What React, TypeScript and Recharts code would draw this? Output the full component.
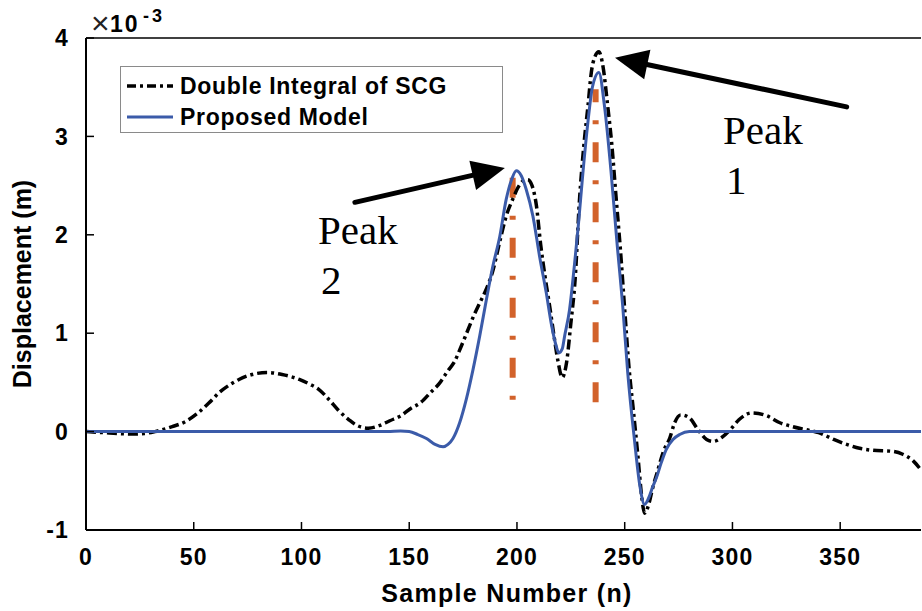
import { LineChart, Line, XAxis, YAxis, ReferenceLine, ReferenceDot, Legend, Label } from "recharts";

// Double integral of SCG (black dash-dot)
const SCG_N = [
  0, 8, 15, 22, 27, 32, 40, 46, 52, 57, 62, 67, 71, 77, 84, 91, 99, 104, 108, 113, 117, 122, 126, 131,
  136, 141, 146, 151, 155, 160, 164, 168, 171, 174, 177, 180, 183, 186, 189, 192, 195, 198, 201, 203,
  205, 207, 209, 211, 213, 215, 217, 219, 221, 223, 225, 227, 229, 231, 233, 234.5, 236, 238, 240, 242,
  244, 246, 248, 250, 252, 254, 256, 258, 259.2, 261, 263, 265, 268, 271, 273, 276, 280, 284, 288, 291,
  295, 299, 303, 309, 316, 322, 328, 334, 340, 347, 353, 359, 365, 374, 379, 384, 387.5,
];
const SCG_V = [
  0, -0.01, -0.02, -0.025, -0.02, 0, 0.05, 0.1, 0.19, 0.29, 0.4, 0.48, 0.53, 0.58, 0.6, 0.58, 0.53, 0.48,
  0.43, 0.32, 0.22, 0.12, 0.06, 0.035, 0.06, 0.11, 0.16, 0.24, 0.29, 0.4, 0.49, 0.62, 0.71, 0.86, 1.02,
  1.18, 1.32, 1.46, 1.65, 1.93, 2.19, 2.36, 2.5, 2.55, 2.56, 2.5, 2.3, 1.9, 1.58, 1.3, 1.0, 0.72, 0.55,
  0.7, 1.1, 1.55, 2.35, 2.9, 3.32, 3.65, 3.8, 3.86, 3.7, 3.33, 2.92, 2.38, 1.85, 1.24, 0.65, 0.22, -0.22,
  -0.68, -0.83, -0.75, -0.57, -0.42, -0.2, -0.06, 0.08, 0.17, 0.14, 0.02, -0.08, -0.1, -0.06, 0.02, 0.12,
  0.19, 0.16, 0.09, 0.05, 0.02, -0.01, -0.08, -0.13, -0.17, -0.19, -0.2, -0.23, -0.3, -0.39,
];

// Proposed model (blue)
const MODEL_N = [
  0, 140, 146, 150, 154, 158, 162, 165.7, 168, 170.3, 173.4, 176.5, 179.6, 182.7, 185.8, 188.8, 192, 195,
  197.5, 199.7, 202, 204.3, 207.4, 210.5, 213.6, 215.9, 218.2, 219.4, 221, 222.1, 224.4, 226.7, 228.5,
  230.6, 232.9, 235, 238, 240.6, 243.7, 246.3, 249.1, 251.4, 254.5, 257.1, 259.2, 261, 263, 264.7, 266.9,
  269.3, 272.4, 275.5, 280, 290, 387.5,
];
const MODEL_V = [
  0, 0, 0.005, 0, -0.03, -0.07, -0.13, -0.155, -0.13, -0.07, 0.09, 0.33, 0.63, 0.97, 1.34, 1.68, 1.98,
  2.36, 2.56, 2.65, 2.6, 2.46, 2.19, 1.78, 1.41, 1.1, 0.87, 0.8, 0.84, 0.97, 1.24, 1.7, 2.1, 2.63, 3.14,
  3.5, 3.65, 3.31, 2.63, 1.95, 1.27, 0.6, -0.08, -0.56, -0.74, -0.68, -0.56, -0.47, -0.32, -0.18, -0.08,
  -0.03, 0, 0, 0,
];

const X_TICKS = [0, 50, 100, 150, 200, 250, 300, 350];
const Y_TICKS = [-1, 0, 1, 2, 3, 4];

// peak markers (sample, low, high)
const PEAK_SAMPLES = [198, 236.5];
const PEAK_LOW = [0.27, 0.25];
const PEAK_HIGH = [2.58, 3.48];

// arrows: tail -> tip, in data units
const ARROWS = [
  { from: [353, 3.3], to: [245.5, 3.8] },
  { from: [124.8, 2.33], to: [194.4, 2.68] },
];
const PEAK_LABELS = [
  { n: 295.6, v: 2.92, num: "1" },
  { n: 107.7, v: 1.91, num: "2" },
];

const LEGEND_ITEMS = [
  { name: "Double Integral of SCG", color: "#000", dash: "9 4 3 4", width: 3.5 },
  { name: "Proposed Model", color: "#3B5BA9", dash: undefined, width: 3 },
];

const FONT = '"Liberation Sans", Arial, sans-serif';
const SERIF = '"Liberation Serif", "Times New Roman", serif';
const DOMAIN_X: [number, number] = [0, 387.5];
const DOMAIN_Y: [number, number] = [-1, 4];

const scgData = SCG_N.map((n, i) => ({ n, v: SCG_V[i] }));
const modelData = MODEL_N.map((n, i) => ({ n, v: MODEL_V[i] }));

const Arrow = (p: any) => {
  const { x1, y1, x2, y2 } = p;
  const dx = x2 - x1;
  const dy = y2 - y1;
  const len = Math.sqrt(dx * dx + dy * dy);
  const ux = dx / len;
  const uy = dy / len;
  const headLen = 33;
  const half = 15;
  const bx = x2 - ux * headLen;
  const by = y2 - uy * headLen;
  return (
    <g>
      <line x1={x1} y1={y1} x2={bx + ux * 4} y2={by + uy * 4} stroke="#000" strokeWidth={5} strokeLinecap="round" />
      <polygon
        points={`${x2},${y2} ${bx - uy * half},${by + ux * half} ${bx + uy * half},${by - ux * half}`}
        fill="#000"
      />
    </g>
  );
};

const PeakText = (num: string) => (p: any) => (
  <text x={p.cx} y={p.cy} fontFamily={SERIF} fontSize={41} fill="#000">
    <tspan x={p.cx}>Peak</tspan>
    <tspan x={p.cx + 3} dy={50}>{num}</tspan>
  </text>
);

const LegendBox = () => (
  <div
    style={{
      boxSizing: "border-box",
      width: 383,
      height: 67,
      border: "1.5px solid #8a8a8a",
      background: "#fff",
      position: "relative",
      fontFamily: FONT,
      fontWeight: 700,
      fontSize: 23,
      letterSpacing: 0.7,
      color: "#000",
    }}
  >
    {LEGEND_ITEMS.map((item, i) => (
      <div
        key={item.name}
        style={{ position: "absolute", left: 0, top: i === 0 ? 3 : 34, height: 32, display: "flex", alignItems: "center" }}
      >
        <svg width={59} height={32} style={{ display: "block" }}>
          <line x1={6} x2={52} y1={16} y2={16} stroke={item.color} strokeWidth={item.width} strokeDasharray={item.dash} />
        </svg>
        <span style={{ whiteSpace: "nowrap" }}>{item.name}</span>
      </div>
    ))}
  </div>
);

const tickStyle = { fontFamily: FONT, fontWeight: 700, fontSize: 23, fill: "#000", letterSpacing: 1.2 };

export default function App() {
  return (
    <div style={{ width: 922, height: 611, background: "#fff" }}>
      <style>{`html,body{margin:0;padding:0;overflow:hidden;background:#fff}`}</style>
      <LineChart width={922} height={611} margin={{ top: 37, right: 0, bottom: 0, left: 0 }}>
        <XAxis
          xAxisId="b"
          dataKey="n"
          type="number"
          domain={DOMAIN_X}
          ticks={X_TICKS}
          allowDataOverflow
          height={81}
          axisLine={{ stroke: "#000", strokeWidth: 2 }}
          tickLine={{ stroke: "#000", strokeWidth: 1.5 }}
          tickSize={-8}
          tickMargin={27}
          tick={tickStyle}
          interval={0}
        >
          <Label
            content={() => (
              <text x={507} y={602} textAnchor="middle" fontFamily={FONT} fontWeight={700} fontSize={25} letterSpacing={1.3} fill="#000">
                Sample Number (n)
              </text>
            )}
          />
        </XAxis>
        <XAxis
          xAxisId="t"
          orientation="top"
          dataKey="n"
          type="number"
          domain={DOMAIN_X}
          ticks={X_TICKS}
          allowDataOverflow
          height={1}
          axisLine={{ stroke: "#000", strokeWidth: 1.5 }}
          tickLine={{ stroke: "#000", strokeWidth: 1.5 }}
          tickSize={-8}
          tick={false}
          interval={0}
        />
        <YAxis
          yAxisId="l"
          type="number"
          domain={DOMAIN_Y}
          ticks={Y_TICKS}
          allowDataOverflow
          width={86}
          axisLine={{ stroke: "#000", strokeWidth: 2 }}
          tickLine={{ stroke: "#000", strokeWidth: 1.5 }}
          tickSize={-8}
          tickMargin={25}
          tick={tickStyle}
          interval={0}
        >
          <Label
            content={() => (
              <g>
                <text
                  x={31}
                  y={284}
                  transform="rotate(-90 31 284)"
                  textAnchor="middle"
                  fontFamily={FONT}
                  fontWeight={700}
                  fontSize={25}
                  fill="#000"
                >
                  Displacement (m)
                </text>
                <text x={91} y={34} fontFamily={FONT} fontSize={32} fill="#222">
                  ×
                </text>
                <text x={110} y={32} fontFamily={FONT} fontWeight={700} fontSize={23} letterSpacing={2} fill="#000">
                  10
                </text>
                <text x={143} y={22} fontFamily={FONT} fontWeight={700} fontSize={18} letterSpacing={3} fill="#000">
                  -3
                </text>
              </g>
            )}
          />
        </YAxis>
        <YAxis
          yAxisId="r"
          orientation="right"
          type="number"
          domain={DOMAIN_Y}
          ticks={Y_TICKS}
          allowDataOverflow
          width={1}
          axisLine={false}
          tickLine={{ stroke: "#000", strokeWidth: 1.5 }}
          tickSize={-8}
          tick={false}
          interval={0}
        />

        <Legend
          layout="horizontal"
          verticalAlign="middle"
          align="center"
          content={() => <LegendBox />}
          wrapperStyle={{ left: 120, top: 66, width: 383, height: 67 }}
        />

        {PEAK_SAMPLES.map((n, i) => (
          <ReferenceLine
            key={`pk-${i}`}
            xAxisId="b"
            yAxisId="l"
            segment={[
              { x: n, y: PEAK_HIGH[i] },
              { x: n, y: PEAK_LOW[i] },
            ]}
            stroke="#D2622B"
            strokeWidth={6}
            strokeDasharray="20 18 4 18"
            strokeDashoffset={i === 0 ? 0 : 7}
          />
        ))}

        <Line
          xAxisId="b"
          yAxisId="l"
          data={scgData}
          dataKey="v"
          type="monotone"
          stroke="#000"
          strokeWidth={3.5}
          strokeDasharray="10 4 3 4"
          dot={false}
          isAnimationActive={false}
          name="Double Integral of SCG"
        />
        <Line
          xAxisId="b"
          yAxisId="l"
          data={modelData}
          dataKey="v"
          type="monotone"
          stroke="#3B5BA9"
          strokeWidth={3}
          dot={false}
          isAnimationActive={false}
          name="Proposed Model"
        />

        {ARROWS.map((a, i) => (
          <ReferenceLine
            key={`ar-${i}`}
            xAxisId="b"
            yAxisId="l"
            segment={[
              { x: a.from[0], y: a.from[1] },
              { x: a.to[0], y: a.to[1] },
            ]}
            shape={(p: any) => <Arrow {...p} />}
          />
        ))}
        {PEAK_LABELS.map((pl, i) => (
          <ReferenceDot
            key={`pl-${i}`}
            xAxisId="b"
            yAxisId="l"
            x={pl.n}
            y={pl.v}
            r={0}
            shape={PeakText(pl.num)}
          />
        ))}
      </LineChart>
    </div>
  );
}
